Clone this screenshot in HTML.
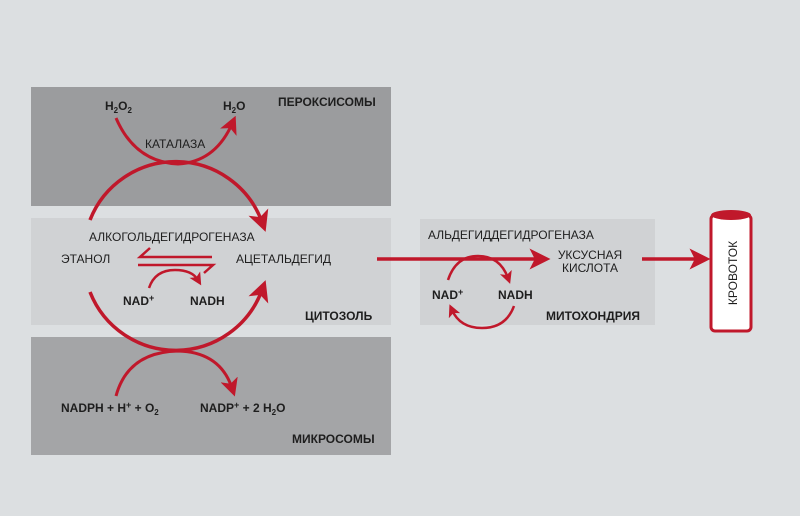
<!DOCTYPE html>
<html><head><meta charset="utf-8"><style>
html,body{margin:0;padding:0;background:#dcdfe1}
svg{display:block}
text{font-family:"Liberation Sans",sans-serif;fill:#1e1e1e}
.b{font-weight:bold}
</style></head><body>
<svg width="800" height="516" viewBox="0 0 800 516" xmlns="http://www.w3.org/2000/svg">
<defs>
<marker id="ah" markerWidth="6" markerHeight="6" refX="3" refY="3" orient="auto" markerUnits="strokeWidth">
<path d="M0,0 L6,3 L0,6 L1.5,3 Z" fill="#c0182b"/></marker>
<marker id="as" markerWidth="5" markerHeight="5" refX="2.5" refY="2.5" orient="auto" markerUnits="strokeWidth">
<path d="M0,0 L5,2.5 L0,5 L1.2,2.5 Z" fill="#c0182b"/></marker>
</defs>
<rect width="800" height="516" fill="#dcdfe1"/>
<rect x="31" y="87" width="360" height="119" fill="#9b9c9e"/>
<rect x="31" y="218" width="360" height="107" fill="#d0d2d4"/>
<rect x="31" y="337" width="360" height="118" fill="#a4a5a7"/>
<rect x="420" y="219" width="235" height="106" fill="#d0d2d4"/>

<g fill="none" stroke="#c0182b" stroke-width="3.5">
<path d="M90 220 A92 92 0 0 1 262 222" marker-end="url(#ah)"/>
<path d="M90 292 A92 92 0 0 0 262 290" marker-end="url(#ah)"/>
<path d="M116 118 Q135 162 178 164 Q215 162 232 124" marker-end="url(#ah)" stroke-width="3"/>
<path d="M116 396 Q128 352 178 351 Q220 352 232 388" marker-end="url(#ah)" stroke-width="3"/>
<path d="M377 259 L540 259" marker-end="url(#ah)"/>
<path d="M642 259 L700 259" marker-end="url(#ah)"/>
</g>
<g fill="none" stroke="#c0182b" stroke-width="2.5">
<path d="M212 257 L140 257 L150 248"/>
<path d="M138 265 L213 265 L204 273"/>
<path d="M149 288 Q155 270 175 270 Q192 270 198 280" marker-end="url(#as)"/>
<path d="M448 280 Q456 256 478 256 Q500 256 508 278" marker-end="url(#as)"/>
<path d="M514 306 Q506 328 482 328 Q460 328 452 310" marker-end="url(#as)"/>
</g>

<rect x="711" y="215" width="40" height="116" rx="4" fill="#fff" stroke="#c0182b" stroke-width="3"/>
<ellipse cx="731" cy="215" rx="20" ry="5" fill="#c0182b"/>
<text transform="translate(737 273) rotate(-90)" text-anchor="middle" font-size="12">КРОВОТОК</text>

<text x="105" y="110" class="b" font-size="12">H<tspan font-size="8" dy="3">2</tspan><tspan dy="-3">O</tspan><tspan font-size="8" dy="3">2</tspan></text>
<text x="223" y="110" class="b" font-size="12">H<tspan font-size="8" dy="3">2</tspan><tspan dy="-3">O</tspan></text>
<text x="278" y="106" class="b" font-size="12">ПЕРОКСИСОМЫ</text>
<text x="145" y="148" font-size="12">КАТАЛАЗА</text>
<text x="89" y="241" font-size="12">АЛКОГОЛЬДЕГИДРОГЕНАЗА</text>
<text x="61" y="263" font-size="12">ЭТАНОЛ</text>
<text x="236" y="263" font-size="12">АЦЕТАЛЬДЕГИД</text>
<text x="123" y="305" class="b" font-size="12">NAD<tspan font-size="9" dy="-4">+</tspan></text>
<text x="190" y="305" class="b" font-size="12">NADH</text>
<text x="305" y="320" class="b" font-size="12">ЦИТОЗОЛЬ</text>
<text x="61" y="412" class="b" font-size="12">NADPH + H<tspan font-size="9" dy="-4">+</tspan><tspan dy="4"> + O</tspan><tspan font-size="8" dy="3">2</tspan></text>
<text x="200" y="412" class="b" font-size="12">NADP<tspan font-size="9" dy="-4">+</tspan><tspan dy="4"> + 2 H</tspan><tspan font-size="8" dy="3">2</tspan><tspan dy="-3">O</tspan></text>
<text x="292" y="443" class="b" font-size="12">МИКРОСОМЫ</text>
<text x="428" y="239" font-size="12">АЛЬДЕГИДДЕГИДРОГЕНАЗА</text>
<text x="590" y="259" text-anchor="middle" font-size="12">УКСУСНАЯ</text>
<text x="590" y="272" text-anchor="middle" font-size="12">КИСЛОТА</text>
<text x="432" y="299" class="b" font-size="12">NAD<tspan font-size="9" dy="-4">+</tspan></text>
<text x="498" y="299" class="b" font-size="12">NADH</text>
<text x="546" y="320" class="b" font-size="12">МИТОХОНДРИЯ</text>
</svg>
</body></html>
